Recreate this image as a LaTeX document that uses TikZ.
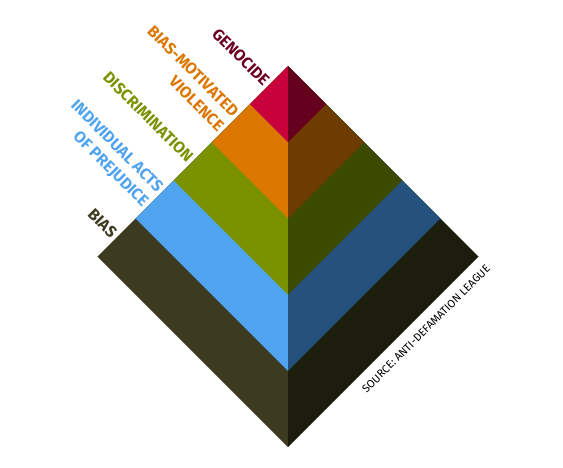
\documentclass[tikz,border=0pt]{standalone}
\usepackage{fontspec}
\setmainfont{Fira Sans}
\definecolor{genL}{HTML}{C8003C}
\definecolor{genR}{HTML}{66001F}
\definecolor{vioL}{HTML}{DB7600}
\definecolor{vioR}{HTML}{6E3C00}
\definecolor{disL}{HTML}{7A9200}
\definecolor{disR}{HTML}{3C4A00}
\definecolor{indL}{HTML}{50A3EF}
\definecolor{indR}{HTML}{24527D}
\definecolor{biaL}{HTML}{3C3B1F}
\definecolor{biaR}{HTML}{1D1D0E}
\definecolor{genT}{HTML}{6B0020}
\begin{document}
\begin{tikzpicture}[x=1pt,y=-1pt,
  lbl/.style={rotate=-45,anchor=east,inner sep=3pt,align=right,
    font=\fontsize{16}{20.5}\selectfont\bfseries}]
\useasboundingbox (0,0) rectangle (563,467);
\def\hh{38.1}
% layers, largest first
\foreach \k/\cl/\cr in {5/biaL/biaR,4/indL/indR,3/disL/disR,2/vioL/vioR,1/genL/genR}{
  \fill[\cl] (288,66) -- ({288-\hh*\k},{66+\hh*\k}) -- (288,{66+2*\hh*\k}) -- cycle;
  \fill[\cr] (288,66) -- ({288+\hh*\k},{66+\hh*\k}) -- (288,{66+2*\hh*\k}) -- cycle;
}
\node[lbl,text=genT] (genocide) at ({288-\hh*0.5},{66+\hh*0.5}) {GENOCIDE};
\node[lbl,text=vioL] (violence) at ({288-\hh*1.5},{66+\hh*1.5}) {BIAS-MOTIVATED\\VIOLENCE};
\node[lbl,text=disL] (discrim) at ({288-\hh*2.5},{66+\hh*2.5}) {DISCRIMINATION};
\node[lbl,text=indL] (individual) at ({288-\hh*3.5},{66+\hh*3.5}) {INDIVIDUAL ACTS\\OF PREJUDICE};
\node[lbl,text=biaL] (bias) at ({288-\hh*4.5},{66+\hh*4.5}) {BIAS};
\node[rotate=45,inner sep=0pt,font=\fontsize{11}{12}\selectfont,text=black] (source) at (426,329) {SOURCE: ANTI-DEFAMATION LEAGUE};
\end{tikzpicture}
\end{document}
